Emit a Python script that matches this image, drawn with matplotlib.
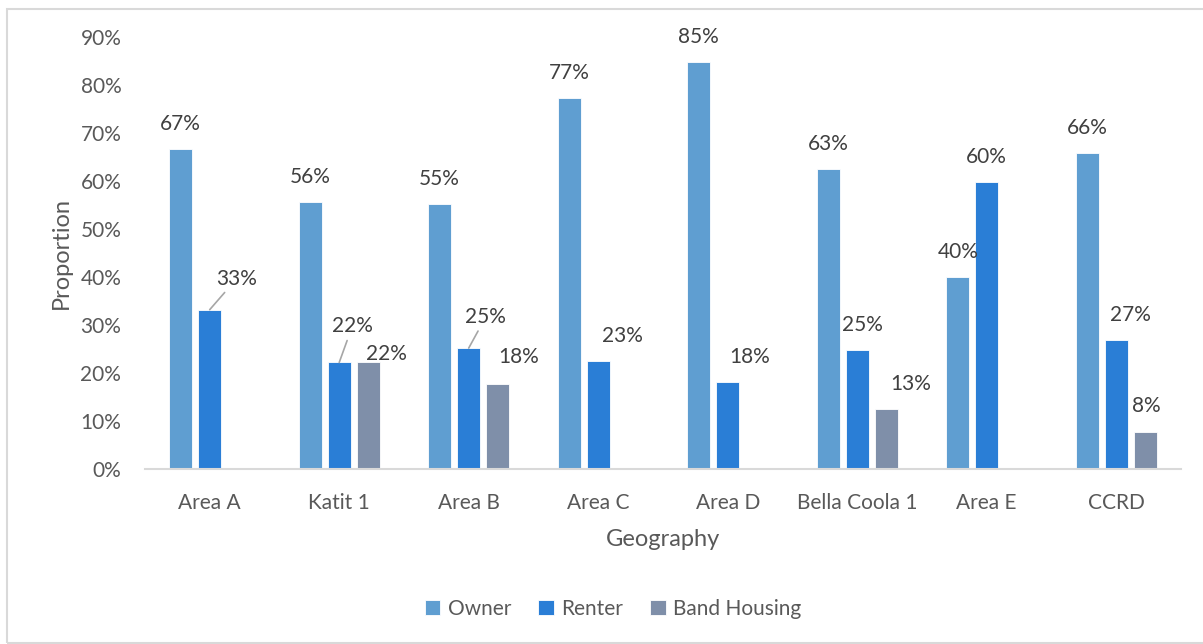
import numpy as np
import matplotlib.pyplot as plt
from matplotlib.patches import Rectangle

plt.rcParams['font.family'] = ['Lato', 'DejaVu Sans']

# data
areas = ['Area A', 'Katit 1', 'Area B', 'Area C', 'Area D', 'Bella Coola 1', 'Area E', 'CCRD']
owner = [0.667, 0.556, 0.553, 0.774, 0.847, 0.626, 0.400, 0.659]
renter = [0.332, 0.222, 0.252, 0.226, 0.181, 0.249, 0.598, 0.269]
band = [0.0, 0.222, 0.178, 0.0, 0.0, 0.126, 0.0, 0.077]
series_names = ['Owner', 'Renter', 'Band Housing']

colors = ['#5F9ED1', '#2A7ED6', '#7F8FA9']

# label offsets in pixels from bar top (dx, dy), and whether to draw a leader line
off_owner = [(0, 25)] * 8
off_renter = [(27, 31), (13, 36), (17, 31), (24, 25), (22, 25), (5, 25), (0, 25), (14, 25)]
off_band = [None, (18, 8), (21, 27), None, None, (24, 25), None, (1, 26)]
leader_renter = [True, True, True, False, False, False, False, False]

fig = plt.figure(figsize=(12.03, 6.44), dpi=100)
ax = fig.add_axes([0.1205, 0.2717, 0.8612, 0.6708])

# outer chart frame
fig.patches.append(Rectangle((7 / 1203, 1 / 644), 1.2, 634 / 644, transform=fig.transFigure,
                             fill=False, edgecolor='#D9D9D9', linewidth=1.5))

fs = 15
x = np.arange(len(areas))
step = 0.224
w = 0.175
all_series = [owner, renter, band]
offsets = [off_owner, off_renter, off_band]
for i, vals in enumerate(all_series):
    pos = x + (i - 1) * step
    ax.bar(pos, vals, width=w, color=colors[i], edgecolor='white', linewidth=0.6,
           label=series_names[i])
    for j, v in enumerate(vals):
        if v <= 0 or offsets[i][j] is None:
            continue
        dx, dy = offsets[i][j]
        lead = (i == 1 and leader_renter[j])
        ax.annotate('{:.0%}'.format(v), xy=(pos[j], v), xytext=(dx, dy),
                    textcoords='offset pixels', ha='center', va='center',
                    fontsize=fs, color='#404040',
                    arrowprops=dict(arrowstyle='-', color='#A6A6A6', lw=1.2,
                                    shrinkA=1, shrinkB=0) if lead else None)

ax.set_xlim(-0.5, len(areas) - 0.5)
ax.set_ylim(0, 0.9)
ax.set_yticks(np.arange(0, 0.91, 0.1))
ax.set_yticklabels(['{:.0%}'.format(t) for t in np.arange(0, 0.91, 0.1)])
ax.set_xticks(x)
ax.set_xticklabels(areas)
ax.tick_params(axis='both', length=0, labelsize=fs, labelcolor='#595959')
ax.tick_params(axis='y', pad=17)
ax.tick_params(axis='x', pad=17)
for s in ['top', 'right', 'left']:
    ax.spines[s].set_visible(False)
ax.spines['bottom'].set_color('#D9D9D9')
ax.spines['bottom'].set_linewidth(1.5)

ax.set_ylabel('Proportion', fontsize=17, color='#595959', labelpad=6)
ax.set_xlabel('Geography', fontsize=17, color='#595959', labelpad=12)

fig.legend(loc='center', bbox_to_anchor=(613 / 1203, 1 - 609 / 644), ncol=3, frameon=False,
           fontsize=fs, labelcolor='#595959', handlelength=0.75, handleheight=0.75,
           handletextpad=0.35, columnspacing=1.3)

fig.savefig('out.png', dpi=100)
